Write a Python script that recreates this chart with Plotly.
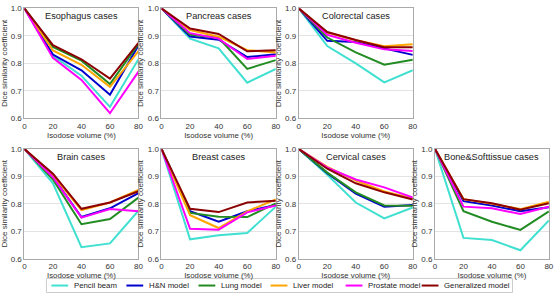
import plotly.graph_objects as go

isodose = [0, 20, 40, 60, 80]
models = ["Pencil beam", "H&N model", "Lung model", "Liver model", "Prostate model", "Generalized model"]
colors = ["#40E0D0", "#0000CD", "#228B22", "#FFA500", "#FF00FF", "#8B0000"]
panel_titles = ["Esophagus cases", "Pancreas cases", "Colorectal cases",
                "Brain cases", "Breast cases", "Cervical cases", "Bone&Softtissue cases"]

# rows: Pencil beam, H&N, Lung, Liver, Prostate, Generalized
esophagus = [[1.0, 0.828, 0.755, 0.642, 0.815],
             [1.0, 0.832, 0.775, 0.686, 0.865],
             [1.0, 0.860, 0.810, 0.725, 0.870],
             [1.0, 0.847, 0.795, 0.715, 0.845],
             [1.0, 0.820, 0.740, 0.619, 0.770],
             [1.0, 0.866, 0.815, 0.745, 0.875]]
pancreas = [[1.0, 0.890, 0.855, 0.730, 0.780],
            [1.0, 0.898, 0.886, 0.823, 0.833],
            [1.0, 0.904, 0.893, 0.780, 0.812],
            [1.0, 0.921, 0.897, 0.848, 0.840],
            [1.0, 0.910, 0.890, 0.816, 0.828],
            [1.0, 0.927, 0.907, 0.844, 0.848]]
colorectal = [[1.0, 0.863, 0.800, 0.731, 0.775],
              [1.0, 0.882, 0.878, 0.855, 0.831],
              [1.0, 0.894, 0.840, 0.795, 0.813],
              [1.0, 0.912, 0.884, 0.862, 0.870],
              [1.0, 0.904, 0.875, 0.851, 0.845],
              [1.0, 0.914, 0.885, 0.859, 0.859]]
brain = [[1.0, 0.875, 0.642, 0.656, 0.775],
         [1.0, 0.898, 0.752, 0.784, 0.839],
         [1.0, 0.889, 0.726, 0.745, 0.823],
         [1.0, 0.905, 0.777, 0.805, 0.851],
         [1.0, 0.897, 0.750, 0.781, 0.773],
         [1.0, 0.910, 0.782, 0.805, 0.846]]
breast = [[1.0, 0.671, 0.686, 0.694, 0.790],
          [1.0, 0.773, 0.735, 0.773, 0.796],
          [1.0, 0.767, 0.753, 0.752, 0.802],
          [1.0, 0.759, 0.712, 0.773, 0.816],
          [1.0, 0.709, 0.706, 0.769, 0.794],
          [1.0, 0.782, 0.770, 0.805, 0.811]]
cervical = [[1.0, 0.906, 0.805, 0.747, 0.787],
            [1.0, 0.912, 0.837, 0.790, 0.796],
            [1.0, 0.914, 0.842, 0.794, 0.793],
            [1.0, 0.935, 0.885, 0.845, 0.820],
            [1.0, 0.932, 0.889, 0.860, 0.823],
            [1.0, 0.928, 0.875, 0.842, 0.816]]
bone = [[1.0, 0.676, 0.668, 0.631, 0.740],
        [1.0, 0.810, 0.794, 0.773, 0.788],
        [1.0, 0.773, 0.735, 0.705, 0.773],
        [1.0, 0.817, 0.800, 0.781, 0.808],
        [1.0, 0.790, 0.784, 0.763, 0.790],
        [1.0, 0.817, 0.802, 0.779, 0.802]]

panels = [esophagus, pancreas, colorectal, brain, breast, cervical, bone]

W, H = 560, 298
cols_px = [(22.7, 138.2), (161.5, 277.3), (300.5, 416.0), (438.5, 553.8)]
rows_px = [(4.5, 118.0), (149.5, 262.7)]
positions = [(0, 0), (0, 1), (0, 2), (1, 0), (1, 1), (1, 2), (1, 3)]

FONT = "Liberation Sans, Arial, sans-serif"
fig = go.Figure()
layout = {}
annotations = []
shapes = []
for i, (data, title) in enumerate(zip(panels, panel_titles)):
    r, c = positions[i]
    xd = [cols_px[c][0] / W, cols_px[c][1] / W]
    yd = [1 - rows_px[r][1] / H, 1 - rows_px[r][0] / H]
    n = "" if i == 0 else str(i + 1)
    for k, (name, col) in enumerate(zip(models, colors)):
        fig.add_trace(go.Scatter(
            x=isodose, y=data[k], mode="lines", name=name,
            line=dict(color=col, width=2),
            showlegend=False, xaxis="x" + n, yaxis="y" + n))
    layout["xaxis" + n] = dict(
        domain=xd, range=[0, 80], tickvals=isodose, anchor="y" + n,
        showgrid=False, zeroline=False, showline=True, mirror=True,
        linecolor="#aaaaaa", linewidth=1, ticks="", tickfont=dict(size=8, color="#333"),
        title=dict(text="Isodose volume (%)", font=dict(size=7.8, color="#333"), standoff=2))
    layout["yaxis" + n] = dict(
        domain=yd, range=[0.6, 1.0], dtick=0.1, tickformat=".1f", anchor="x" + n,
        showgrid=True, gridcolor="#e3e3e3", zeroline=False, showline=True, mirror=True,
        linecolor="#aaaaaa", linewidth=1, ticks="", tickfont=dict(size=8, color="#333"),
        title=dict(text="Dice similarity coefficient", font=dict(size=8, color="#333"), standoff=2))
    annotations.append(dict(
        text=title, x=(xd[0] + xd[1]) / 2, y=yd[1], xref="paper", yref="paper",
        xanchor="center", yanchor="top", yshift=-1, showarrow=False,
        font=dict(size=9.2, color="#222")))

# custom legend (box + line samples + labels)
leg_box = (45, 283, 517, 297.5)
leg_x = [50, 126, 199, 272, 348, 425]
leg_y = 290.3
shapes.append(dict(type="rect", xref="paper", yref="paper",
                   x0=leg_box[0] / W, x1=leg_box[2] / W,
                   y0=1 - leg_box[3] / H, y1=1 - leg_box[1] / H,
                   line=dict(color="#cccccc", width=1), fillcolor="white", layer="below"))
for name, col, lx in zip(models, colors, leg_x):
    shapes.append(dict(type="line", xref="paper", yref="paper",
                       x0=lx / W, x1=(lx + 17) / W, y0=1 - leg_y / H, y1=1 - leg_y / H,
                       line=dict(color=col, width=2)))
    annotations.append(dict(text=name, x=(lx + 21) / W, y=1 - leg_y / H,
                            xref="paper", yref="paper", xanchor="left", yanchor="middle",
                            showarrow=False, font=dict(size=7.8, color="#222")))

fig.update_layout(
    width=W, height=H, margin=dict(l=0, r=0, t=0, b=0),
    paper_bgcolor="white", plot_bgcolor="white",
    font=dict(family=FONT, size=8, color="#333"),
    annotations=annotations, shapes=shapes, showlegend=False,
    **layout)

fig.write_html("out.html")
